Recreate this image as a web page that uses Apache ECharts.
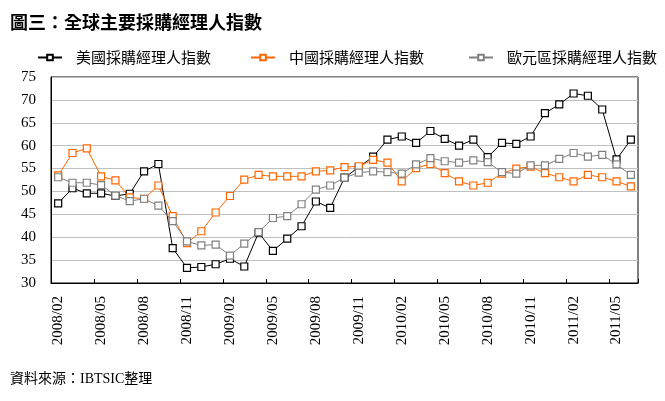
<!DOCTYPE html>
<html>
<head>
<meta charset="utf-8">
<script src="https://cdn.jsdelivr.net/npm/echarts@6/dist/echarts.min.js"></script>
<style>html,body{margin:0;padding:0;background:#fff;}#c{width:665px;height:401px;}</style>
</head>
<body>
<div id="c"></div>
<script>
var categories = ['2008/02','2008/03','2008/04','2008/05','2008/06','2008/07','2008/08','2008/09','2008/10','2008/11','2008/12',
 '2009/01','2009/02','2009/03','2009/04','2009/05','2009/06','2009/07','2009/08','2009/09','2009/10','2009/11','2009/12',
 '2010/01','2010/02','2010/03','2010/04','2010/05','2010/06','2010/07','2010/08','2010/09','2010/10','2010/11','2010/12',
 '2011/01','2011/02','2011/03','2011/04','2011/05','2011/06'];
var usPMI = [47.4,50.7,49.6,49.6,49.0,49.5,54.4,56.0,37.6,33.3,33.5,34.1,35.3,33.6,41.0,37.0,39.7,42.4,47.8,46.4,53.0,55.3,57.6,61.3,62.0,60.6,63.2,61.5,60.0,61.3,57.5,60.6,60.4,62.0,67.1,69.0,71.4,70.9,67.9,57.0,61.3];
var chinaPMI = [53.5,58.4,59.4,53.3,52.4,48.7,48.4,51.3,44.6,38.7,41.3,45.4,49.0,52.6,53.6,53.3,53.3,53.3,54.4,54.6,55.3,55.5,56.9,56.3,52.2,55.1,56.0,54.0,52.2,51.3,51.9,53.9,55.0,55.4,54.0,53.1,52.2,53.6,53.1,52.2,51.1];
var euroPMI = [53.1,51.9,51.9,51.4,49.1,47.9,48.4,46.9,43.5,39.1,38.2,38.4,36.0,38.6,41.1,44.2,44.6,47.2,50.4,51.3,53.0,54.1,54.4,54.2,53.9,55.9,57.3,56.6,56.3,56.8,56.4,54.2,53.9,55.7,55.7,57.1,58.4,57.6,58.0,55.9,53.6];
var seriesNames = ['美國採購經理人指數','中國採購經理人指數','歐元區採購經理人指數'];
var titleText = '圖三：全球主要採購經理人指數';
var sourceText = '資料來源：IBTSIC整理';

var colors = ['#000000','#ff6600','#808080'];
var cjk = "'Noto Sans CJK TC','Noto Sans CJK SC',sans-serif";
var serif = "'Liberation Serif','Noto Sans CJK TC',serif";
var legendLeft = [32, 245, 463];

function mkSeries(name, data, c){
  return {
    name: name, type: 'line', data: data,
    symbol: 'rect', symbolSize: 7,
    lineStyle: {color: c, width: 1},
    itemStyle: {color: '#fff', borderColor: c, borderWidth: 1.2},
    emphasis: {disabled: true}
  };
}

var chart = echarts.init(document.getElementById('c'));
chart.setOption({
  animation: false,
  backgroundColor: '#fff',
  title: [
    {text: titleText, left: 5, top: 8, textStyle: {fontSize: 18, fontWeight: 'bold', color: '#000', fontFamily: cjk}},
    {text: sourceText, left: 5, top: 367, textStyle: {fontSize: 14, fontWeight: 'normal', color: '#000', fontFamily: serif}}
  ],
  legend: seriesNames.map(function(n, i){
    return {
      data: [n], left: legendLeft[i], top: 45,
      itemWidth: 24, itemHeight: 7,
      textStyle: {fontSize: 15, color: '#000', fontFamily: cjk, padding: [0,0,0,9]}
    };
  }),
  grid: {left: 51, top: 77, width: 587, height: 206, show: true, borderColor: '#000', borderWidth: 1, containLabel: false},
  xAxis: {
    type: 'category', data: categories, boundaryGap: true,
    axisLine: {lineStyle: {color: '#000', width: 1}},
    axisTick: {show: true, inside: true, length: 4, interval: 2, lineStyle: {color: '#000'}},
    axisLabel: {interval: 2, rotate: 90, margin: 13, fontSize: 15, color: '#000', fontFamily: serif},
    splitLine: {show: false}
  },
  yAxis: {
    type: 'value', min: 30, max: 75, interval: 5,
    axisLine: {show: true, lineStyle: {color: '#000', width: 1}},
    axisTick: {show: false},
    axisLabel: {margin: 15, fontSize: 15, color: '#000', fontFamily: serif},
    splitLine: {show: true, lineStyle: {color: '#c0c0c0', width: 1}}
  },
  series: [
    mkSeries(seriesNames[0], usPMI, colors[0]),
    mkSeries(seriesNames[1], chinaPMI, colors[1]),
    mkSeries(seriesNames[2], euroPMI, colors[2])
  ]
});
</script>
</body>
</html>
